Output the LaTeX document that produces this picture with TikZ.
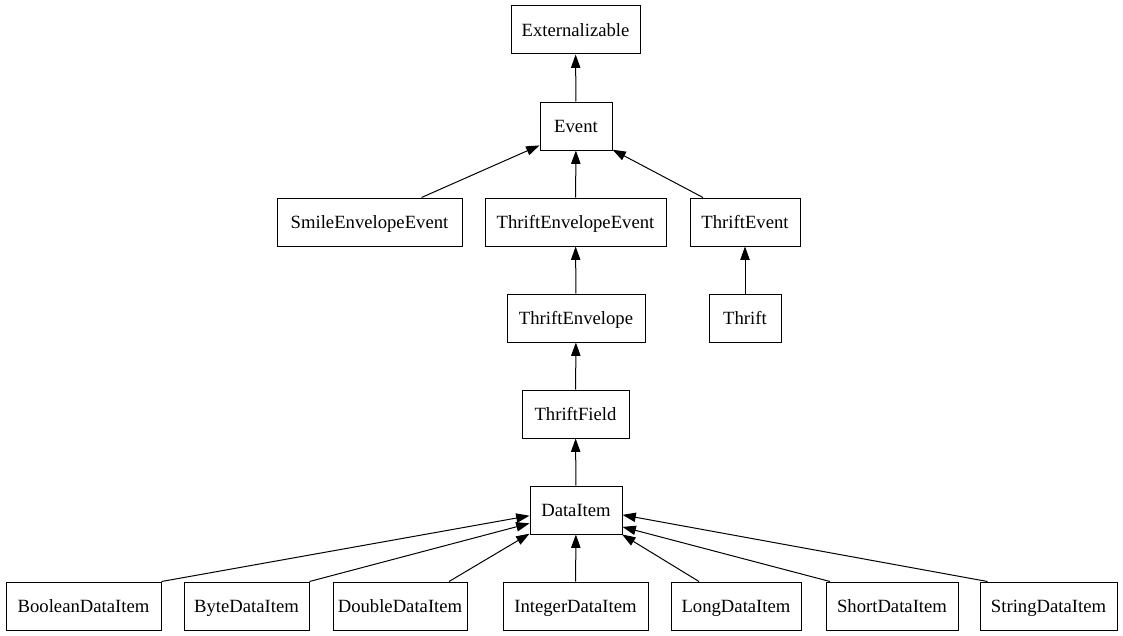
\documentclass[tikz,border=0pt]{standalone}
\usepackage{fontspec}
\setmainfont{Liberation Serif}
\usetikzlibrary{arrows.meta}

\begin{document}
\begin{tikzpicture}[x=0.75pt,y=-0.75pt,
		cls/.style={draw,line width=0.75pt,inner xsep=2pt,minimum width=#1*0.75pt,minimum height=36pt,
			text height=11.5pt,text depth=1.5pt,font=\fontsize{14pt}{16pt}\selectfont},
		isa/.style={line width=0.75pt,-{Triangle[length=10pt,width=7pt]}}]
		\useasboundingbox (0,0) rectangle (1123,635);
		
		% draw upper nodes
		\node[cls=129] (ext) at (575.5,30) {Externalizable};
		\node[cls=72] (event) at (576,126) {Event};
		\node[cls=185] (smile) at (369.5,222) {SmileEnvelopeEvent};
		\node[cls=181] (envevent) at (575.5,222) {ThriftEnvelopeEvent};
		\node[cls=110] (tevent) at (745,222) {ThriftEvent};
		\node[cls=138] (envelope) at (576,318) {ThriftEnvelope};
		\node[cls=72] (thrift) at (745,318) {Thrift};
		\node[cls=107] (field) at (575.5,414) {ThriftField};
		\node[cls=92] (dataitem) at (576,510) {DataItem};
		
		% draw bottom row
		\node[cls=155] (boolean) at (83.5,606) {BooleanDataItem};
		\node[cls=125] (byte) at (246.5,606) {ByteDataItem};
		\node[cls=134] (double) at (400,606) {DoubleDataItem};
		\node[cls=145] (integer) at (575.5,606) {IntegerDataItem};
		\node[cls=130] (long) at (736,606) {LongDataItem};
		\node[cls=132] (short) at (892,606) {ShortDataItem};
		\node[cls=137] (string) at (1048.5,606) {StringDataItem};
		
		% draw edges
		\draw[isa] (event) -- (ext);
		\draw[isa] ([xshift=52*0.75pt]smile.north) -- (event.208);
		\draw[isa] (envevent) -- (event);
		\draw[isa] ([xshift=-42*0.75pt]tevent.north) -- (event.-33);
		\draw[isa] (envelope) -- (envevent);
		\draw[isa] (thrift) -- (tevent);
		\draw[isa] (field) -- (envelope);
		\draw[isa] (dataitem) -- (field);
		
		\draw[isa] (boolean.north east) -- (dataitem.187);
		\draw[isa] (byte.north east) -- (dataitem.196);
		\draw[isa] ([xshift=49*0.75pt]double.north) -- (dataitem.207);
		\draw[isa] (integer) -- (dataitem);
		\draw[isa] ([xshift=-37*0.75pt]long.north) -- (dataitem.-28);
		\draw[isa] ([xshift=-62*0.75pt]short.north) -- (dataitem.-20);
		\draw[isa] ([xshift=-61*0.75pt]string.north) -- (dataitem.-6);
\end{tikzpicture}
\end{document}
